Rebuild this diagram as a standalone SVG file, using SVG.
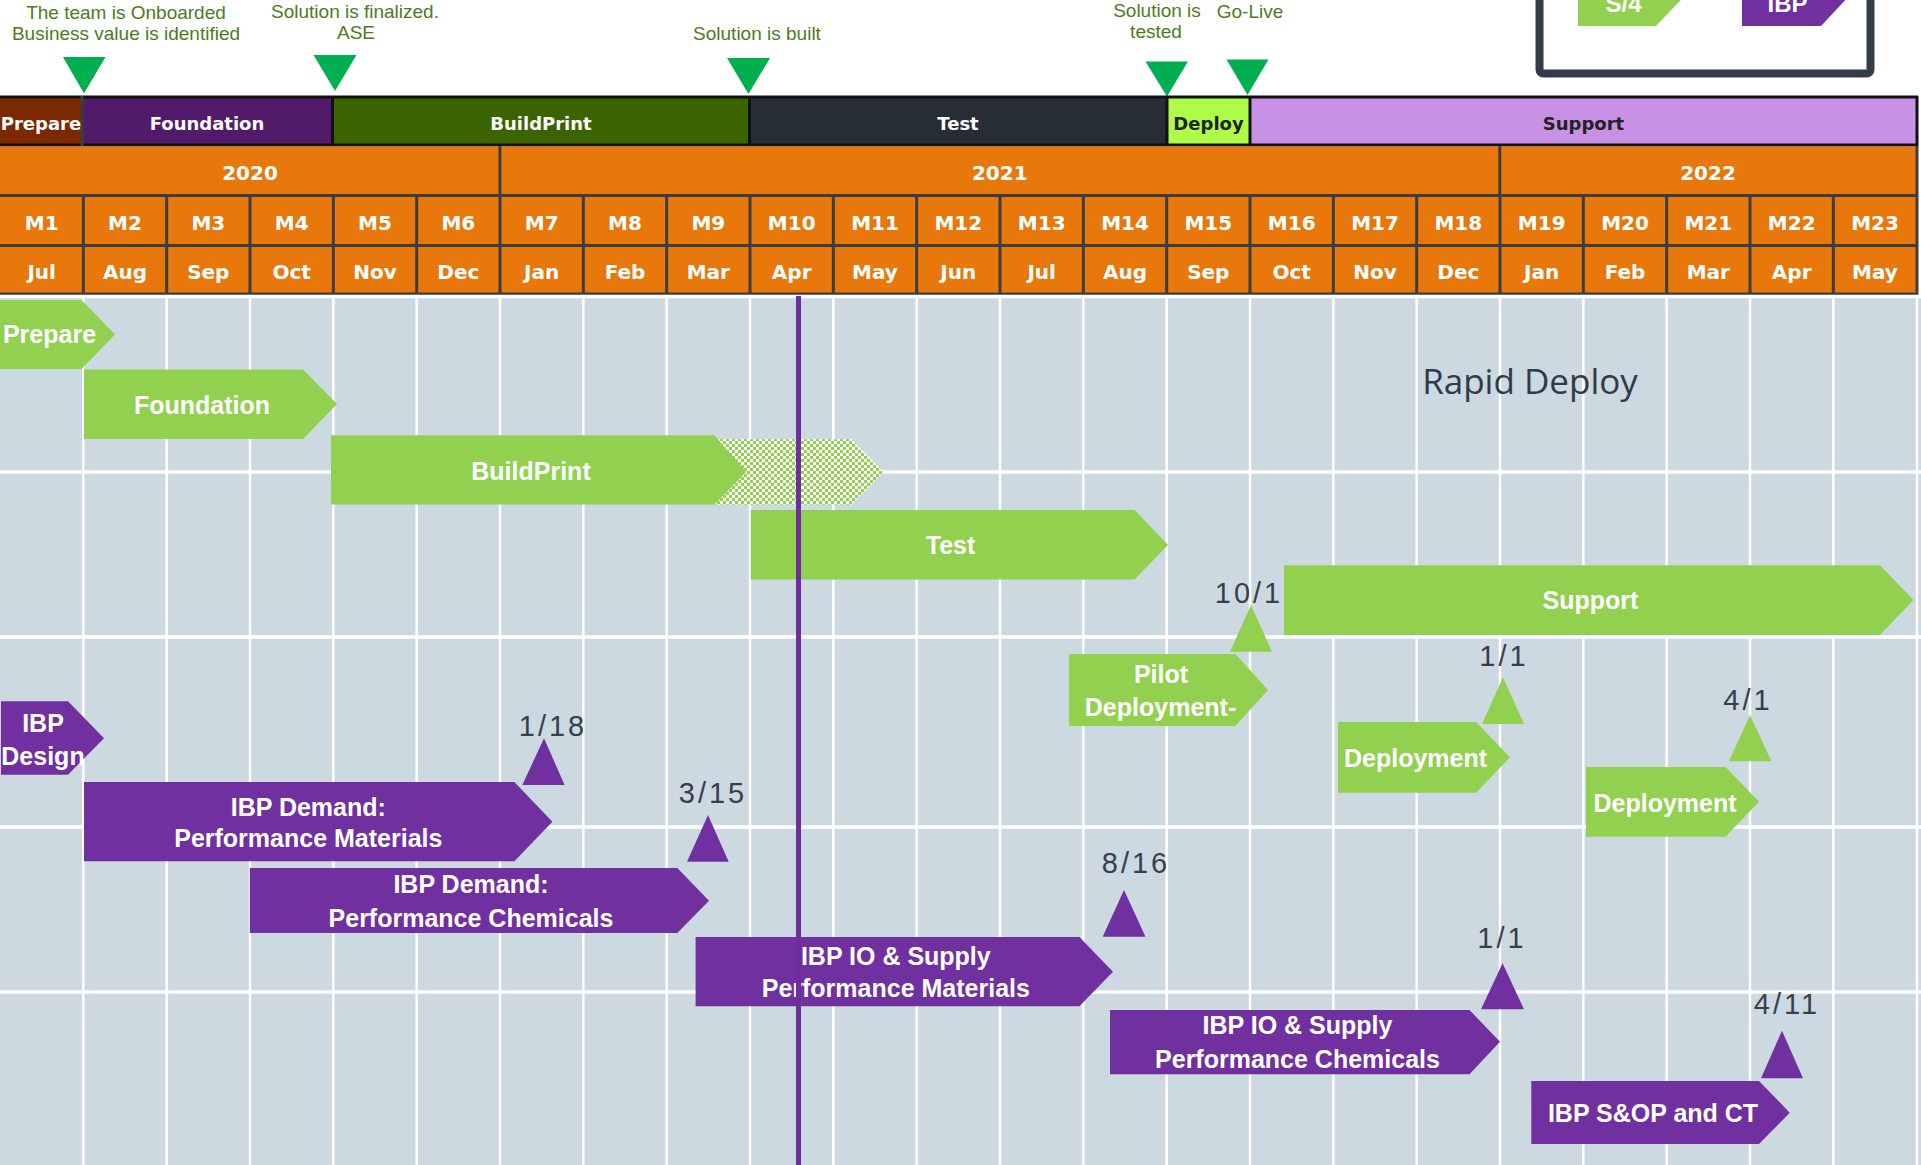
<svg xmlns="http://www.w3.org/2000/svg" width="1921" height="1165" viewBox="0 0 1921 1165">
<defs>
<pattern id="chk" patternUnits="userSpaceOnUse" width="6" height="6">
<rect width="6" height="6" fill="#ffffff"/>
<rect width="3" height="3" fill="#92D050"/>
<rect x="3" y="3" width="3" height="3" fill="#92D050"/>
</pattern>
<style>
.hdr{font-family:"DejaVu Sans",Verdana,sans-serif;font-weight:bold;text-anchor:middle}
.ph{font-size:18px;fill:#ffffff}
.phd{font-size:18px;fill:#222222}
.row{font-size:20px;fill:#ffffff}
.hl{stroke:#3D3D3D;stroke-width:3}
.bl{stroke:#111111;stroke-width:3}
.gl{stroke:#ffffff;stroke-width:2.5}
.gh{stroke:#ffffff;stroke-width:3.5}
.grn{fill:#92D050}
.pur{fill:#7030A0}
.lbl{font-family:"Liberation Sans",Arial,sans-serif;font-weight:bold;font-size:25px;fill:#ffffff;text-anchor:middle}
.dt{font-family:"Liberation Sans",Arial,sans-serif;font-size:29px;fill:#36404A;text-anchor:middle;letter-spacing:3px}
.ms{font-family:"Liberation Sans",Arial,sans-serif;font-size:19px;fill:#4E7B1C;text-anchor:middle}
.mk{fill:#00B050}
</style>
</defs>
<rect width="1921" height="1165" fill="#ffffff"/>

<g id="legend">
<rect x="1539.5" y="-40" width="331" height="113.5" rx="4" fill="#ffffff" stroke="#333D47" stroke-width="8"/>
<polygon points="1578,-20 1700,-20 1656,26 1578,26" class="grn"/>
<text x="1623.5" y="12" class="lbl" style="font-size:24px">S/4</text>
<polygon points="1742,-20 1864,-20 1821,26 1742,26" class="pur"/>
<text x="1787.5" y="12" class="lbl" style="font-size:24px">IBP</text>
</g>

<g id="milestones-top">
<text x="126" y="19" class="ms">The team is Onboarded</text>
<text x="126" y="40" class="ms">Business value is identified</text>
<polygon points="63,57 105.5,57 84,93.5" class="mk"/>
<text x="355" y="17.5" class="ms">Solution is finalized.</text>
<text x="356" y="38.5" class="ms">ASE</text>
<polygon points="313.5,55 356.5,55 335,91" class="mk"/>
<text x="757" y="39.5" class="ms">Solution is built</text>
<polygon points="727,58 770,58 748.5,94" class="mk"/>
<text x="1157" y="17" class="ms">Solution is</text>
<text x="1156" y="38" class="ms">tested</text>
<polygon points="1145.5,61.5 1188,61.5 1167,96.5" class="mk"/>
<text x="1250" y="17.5" class="ms">Go-Live</text>
<polygon points="1226.5,59.5 1268.5,59.5 1247.5,95" class="mk"/>
</g>

<g id="phase-bar">
<rect x="0" y="96" width="82" height="50" fill="#7A2900"/>
<rect x="82" y="96" width="250.5" height="50" fill="#521A6A"/>
<rect x="332.5" y="96" width="417" height="50" fill="#3B6300"/>
<rect x="749.5" y="96" width="417.5" height="50" fill="#262D35"/>
<rect x="1167" y="96" width="83" height="50" fill="#AEFC47"/>
<rect x="1250" y="96" width="667" height="50" fill="#C791E6"/>
<line x1="0" y1="97" x2="1918" y2="97" class="bl"/>
<line x1="0" y1="145" x2="1918" y2="145" class="bl"/>
<line x1="82" y1="96" x2="82" y2="146" class="hl"/>
<line x1="332.5" y1="96" x2="332.5" y2="146" class="bl"/>
<line x1="749.5" y1="96" x2="749.5" y2="146" class="bl"/>
<line x1="1167" y1="96" x2="1167" y2="146" class="bl"/>
<line x1="1250" y1="96" x2="1250" y2="146" class="bl"/>
<line x1="1917" y1="96" x2="1917" y2="146" class="bl"/>
<text x="41" y="129.5" class="hdr ph">Prepare</text>
<text x="207" y="129.5" class="hdr ph">Foundation</text>
<text x="541" y="129.5" class="hdr ph">BuildPrint</text>
<text x="958" y="129.5" class="hdr ph">Test</text>
<text x="1208.5" y="129.5" class="hdr phd">Deploy</text>
<text x="1583.5" y="129.5" class="hdr phd">Support</text>
</g>

<g id="calendar">
<rect x="0" y="146.5" width="1917" height="148" fill="#E8770C"/>
<line x1="0" y1="195.5" x2="1918" y2="195.5" class="hl"/>
<line x1="0" y1="245.5" x2="1918" y2="245.5" class="hl"/>
<line x1="0" y1="294" x2="1918" y2="294" class="hl"/>
<line x1="499.9" y1="146" x2="499.9" y2="196" class="hl"/>
<line x1="1499.8" y1="146" x2="1499.8" y2="196" class="hl"/>
<line x1="1917" y1="146" x2="1917" y2="295" class="hl"/>
<g class="hl">
<line x1="83.33" y1="195" x2="83.33" y2="295"/><line x1="166.67" y1="195" x2="166.67" y2="295"/>
<line x1="250" y1="195" x2="250" y2="295"/><line x1="333.33" y1="195" x2="333.33" y2="295"/>
<line x1="416.67" y1="195" x2="416.67" y2="295"/><line x1="500" y1="195" x2="500" y2="295"/>
<line x1="583.33" y1="195" x2="583.33" y2="295"/><line x1="666.67" y1="195" x2="666.67" y2="295"/>
<line x1="750" y1="195" x2="750" y2="295"/><line x1="833.33" y1="195" x2="833.33" y2="295"/>
<line x1="916.67" y1="195" x2="916.67" y2="295"/><line x1="1000" y1="195" x2="1000" y2="295"/>
<line x1="1083.33" y1="195" x2="1083.33" y2="295"/><line x1="1166.67" y1="195" x2="1166.67" y2="295"/>
<line x1="1250" y1="195" x2="1250" y2="295"/><line x1="1333.33" y1="195" x2="1333.33" y2="295"/>
<line x1="1416.67" y1="195" x2="1416.67" y2="295"/><line x1="1500" y1="195" x2="1500" y2="295"/>
<line x1="1583.33" y1="195" x2="1583.33" y2="295"/><line x1="1666.67" y1="195" x2="1666.67" y2="295"/>
<line x1="1750" y1="195" x2="1750" y2="295"/><line x1="1833.33" y1="195" x2="1833.33" y2="295"/>
</g>
<text x="250" y="179.5" class="hdr row">2020</text>
<text x="999.8" y="179.5" class="hdr row">2021</text>
<text x="1708" y="179.5" class="hdr row">2022</text>
<g class="hdr row">
<text x="41.7" y="230">M1</text><text x="125" y="230">M2</text><text x="208.3" y="230">M3</text><text x="291.7" y="230">M4</text>
<text x="375" y="230">M5</text><text x="458.3" y="230">M6</text><text x="541.7" y="230">M7</text><text x="625" y="230">M8</text>
<text x="708.3" y="230">M9</text><text x="791.7" y="230">M10</text><text x="875" y="230">M11</text><text x="958.3" y="230">M12</text>
<text x="1041.7" y="230">M13</text><text x="1125" y="230">M14</text><text x="1208.3" y="230">M15</text><text x="1291.7" y="230">M16</text>
<text x="1375" y="230">M17</text><text x="1458.3" y="230">M18</text><text x="1541.7" y="230">M19</text><text x="1625" y="230">M20</text>
<text x="1708.3" y="230">M21</text><text x="1791.7" y="230">M22</text><text x="1875" y="230">M23</text>
<text x="41.7" y="279">Jul</text><text x="125" y="279">Aug</text><text x="208.3" y="279">Sep</text><text x="291.7" y="279">Oct</text>
<text x="375" y="279">Nov</text><text x="458.3" y="279">Dec</text><text x="541.7" y="279">Jan</text><text x="625" y="279">Feb</text>
<text x="708.3" y="279">Mar</text><text x="791.7" y="279">Apr</text><text x="875" y="279">May</text><text x="958.3" y="279">Jun</text>
<text x="1041.7" y="279">Jul</text><text x="1125" y="279">Aug</text><text x="1208.3" y="279">Sep</text><text x="1291.7" y="279">Oct</text>
<text x="1375" y="279">Nov</text><text x="1458.3" y="279">Dec</text><text x="1541.7" y="279">Jan</text><text x="1625" y="279">Feb</text>
<text x="1708.3" y="279">Mar</text><text x="1791.7" y="279">Apr</text><text x="1875" y="279">May</text>
</g>
</g>

<g id="grid">
<rect x="0" y="295.5" width="1921" height="870" fill="#CDD9E1"/>
<line x1="0" y1="296.5" x2="1921" y2="296.5" class="gh"/>
<line x1="0" y1="472" x2="1921" y2="472" class="gh"/>
<line x1="0" y1="637" x2="1921" y2="637" class="gh"/>
<line x1="0" y1="827" x2="1921" y2="827" class="gh"/>
<line x1="0" y1="992" x2="1921" y2="992" class="gh"/>
<g class="gl">
<line x1="83.33" y1="296" x2="83.33" y2="1165"/><line x1="166.67" y1="296" x2="166.67" y2="1165"/>
<line x1="250" y1="296" x2="250" y2="1165"/><line x1="333.33" y1="296" x2="333.33" y2="1165"/>
<line x1="416.67" y1="296" x2="416.67" y2="1165"/><line x1="500" y1="296" x2="500" y2="1165"/>
<line x1="583.33" y1="296" x2="583.33" y2="1165"/><line x1="666.67" y1="296" x2="666.67" y2="1165"/>
<line x1="750" y1="296" x2="750" y2="1165"/><line x1="833.33" y1="296" x2="833.33" y2="1165"/>
<line x1="916.67" y1="296" x2="916.67" y2="1165"/><line x1="1000" y1="296" x2="1000" y2="1165"/>
<line x1="1083.33" y1="296" x2="1083.33" y2="1165"/><line x1="1166.67" y1="296" x2="1166.67" y2="1165"/>
<line x1="1250" y1="296" x2="1250" y2="1165"/><line x1="1333.33" y1="296" x2="1333.33" y2="1165"/>
<line x1="1416.67" y1="296" x2="1416.67" y2="1165"/><line x1="1500" y1="296" x2="1500" y2="1165"/>
<line x1="1583.33" y1="296" x2="1583.33" y2="1165"/><line x1="1666.67" y1="296" x2="1666.67" y2="1165"/>
<line x1="1750" y1="296" x2="1750" y2="1165"/><line x1="1833.33" y1="296" x2="1833.33" y2="1165"/>
<line x1="1917" y1="296" x2="1917" y2="1165"/>
</g>
<text x="1530" y="394" style="font-family:'Open Sans',sans-serif;font-size:35px;fill:#2F3B47;text-anchor:middle">Rapid Deploy</text>
</g>

<g id="s4-prepare"><polygon points="0,300 81.5,300 115,334.5 81.5,369 0,369" class="grn"/><text x="49.5" y="343" class="lbl">Prepare</text></g>
<g id="s4-foundation"><polygon points="84,369.5 303,369.5 337,404 303,439 84,439" class="grn"/><text x="202" y="414" class="lbl">Foundation</text></g>
<g id="s4-buildprint-ext"><polygon points="714.5,439.3 851.5,439.3 883.5,472 851.5,504.5 714.5,504.5 746,472" fill="url(#chk)"/></g>
<g id="s4-buildprint"><polygon points="331,435.3 714.5,435.3 746,472 714.5,504.5 331,504.5" class="grn"/><text x="531" y="479.5" class="lbl">BuildPrint</text></g>
<g id="s4-test"><polygon points="750.8,510 1134.5,510 1168,545 1134.5,579.5 750.8,579.5" class="grn"/><text x="950.5" y="554" class="lbl">Test</text></g>
<g id="s4-support"><polygon points="1284,565.3 1880,565.3 1913.5,600 1880,635 1284,635" class="grn"/><text x="1590.5" y="609" class="lbl">Support</text></g>
<g id="s4-pilot"><polygon points="1069,654 1235.5,654 1268,690 1235.5,726 1069,726" class="grn"/><text x="1161" y="683" class="lbl">Pilot</text><text x="1160.5" y="716" class="lbl">Deployment-</text></g>
<g id="s4-deploy1"><polygon points="1338,722 1476,722 1510,757.3 1476,792.7 1338,792.7" class="grn"/><text x="1415.5" y="767.3" class="lbl">Deployment</text></g>
<g id="s4-deploy2"><polygon points="1586,767 1725.5,767 1759,801.7 1725.5,836.7 1586,836.7" class="grn"/><text x="1665" y="811.7" class="lbl">Deployment</text></g>

<g id="ibp-design"><polygon points="1,701.3 68,701.3 104,738.3 68,774.7 1,774.7" class="pur"/><text x="43" y="731.7" class="lbl">IBP</text><text x="43" y="765" class="lbl">Design</text></g>
<g id="ibp-demand-pm"><polygon points="84,782 514.4,782 552.4,821.7 514.4,861.3 84,861.3" class="pur"/><text x="308.3" y="815.7" class="lbl">IBP Demand:</text><text x="308.3" y="846.7" class="lbl">Performance Materials</text></g>
<g id="ibp-demand-pc"><polygon points="249.8,868 677.3,868 709,900.7 677.3,933 249.8,933" class="pur"/><text x="471" y="892.7" class="lbl">IBP Demand:</text><text x="471" y="926.7" class="lbl">Performance Chemicals</text></g>
<g id="ibp-io-pm"><polygon points="695.6,937 1079.4,937 1113,971.7 1079.4,1006.3 695.6,1006.3" class="pur"/><text x="895.8" y="965" class="lbl">IBP IO &amp; Supply</text><text x="895.8" y="996.7" class="lbl">Performance Materials</text></g>
<g id="ibp-io-pc"><polygon points="1110,1010 1469.5,1010 1500,1041.7 1469.5,1074.3 1110,1074.3" class="pur"/><text x="1297.5" y="1034.3" class="lbl">IBP IO &amp; Supply</text><text x="1297.5" y="1067.7" class="lbl">Performance Chemicals</text></g>
<g id="ibp-sop"><polygon points="1531.3,1081 1759,1081 1789.8,1112.7 1759,1144 1531.3,1144" class="pur"/><text x="1653" y="1122.3" class="lbl">IBP S&amp;OP and CT</text></g>

<g id="date-10-1"><text x="1249" y="602.7" class="dt">10/1</text><polygon points="1251,605 1272,651.7 1230,651.7" class="grn"/></g>
<g id="date-1-1-a"><text x="1504" y="666" class="dt">1/1</text><polygon points="1503,677.3 1524,724 1482,724" class="grn"/></g>
<g id="date-4-1"><text x="1748" y="710" class="dt">4/1</text><polygon points="1750,715 1771.4,761.3 1729,761.3" class="grn"/></g>
<g id="date-1-18"><text x="553" y="735.7" class="dt">1/18</text><polygon points="544,738.3 564.6,785 522.3,785" class="pur"/></g>
<g id="date-3-15"><text x="713" y="802.7" class="dt">3/15</text><polygon points="708,815 728.7,861.7 687,861.7" class="pur"/></g>
<g id="date-8-16"><text x="1136" y="873.3" class="dt">8/16</text><polygon points="1124,890 1145.5,936.7 1102.7,936.7" class="pur"/></g>
<g id="date-1-1-b"><text x="1502" y="948.3" class="dt">1/1</text><polygon points="1502.6,963.3 1524,1009.3 1481,1009.3" class="pur"/></g>
<g id="date-4-11"><text x="1787" y="1014" class="dt">4/11</text><polygon points="1782,1030.7 1803,1078.3 1761,1078.3" class="pur"/></g>

<g id="connectors">
<line x1="798.5" y1="296" x2="798.5" y2="1165" stroke="#6E2C9C" stroke-width="5"/>
</g>
</svg>
